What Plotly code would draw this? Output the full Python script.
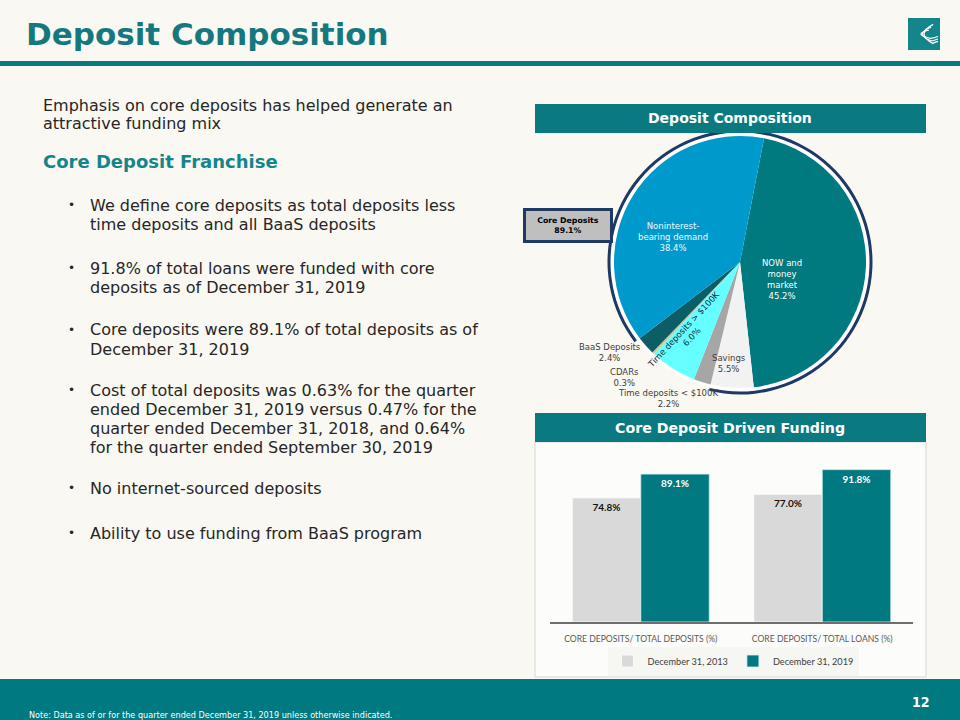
import plotly.graph_objects as go

W, H = 960, 720
def px(x): return x / W
def py(y): return 1 - y / H

# ---------------- data ----------------
pie_labels = ["NOW and money market", "Savings", "Time deposits < $100K",
              "Time deposits > $100K", "CDARs", "BaaS Deposits",
              "Noninterest-bearing demand"]
pie_values = [45.2, 5.5, 2.2, 6.0, 0.3, 2.4, 38.4]
pie_colors = ["#00797F", "#F2F2F2", "#A6A6A6", "#66FFFF", "#C8C89A", "#0C5E66", "#0099CC"]
core_labels = ["NOW and money market", "Savings", "Noninterest-bearing demand"]

bar_categories = ["CORE DEPOSITS/ TOTAL DEPOSITS (%)", "CORE DEPOSITS/ TOTAL LOANS (%)"]
bar_2013 = [74.8, 77.0]
bar_2019 = [89.1, 91.8]
series_names = ["December 31, 2013", "December 31, 2019"]

TEAL = "#0B7A80"
NAVY = "#1F3864"
BG = "#FAF8F2"

core_total = round(sum(v for l, v in zip(pie_labels, pie_values) if l in core_labels), 1)
total = sum(pie_values)
first_angle = 11.0  # NOW slice starts just right of 12 o'clock
core_start = first_angle - pie_values[-1] / total * 360

fig = go.Figure()

cx, cy, R = 740, 262, 126
def dom(r):
    return dict(x=[px(cx - r), px(cx + r)], y=[py(cy + r), py(cy - r)])

# navy arc marking core deposits
fig.add_trace(go.Pie(values=[core_total, total - core_total], sort=False, direction="clockwise",
                     rotation=core_start, hole=129.5 / 132.5, domain=dom(132.5),
                     marker=dict(colors=[NAVY, "rgba(0,0,0,0)"]), textinfo="none",
                     hoverinfo="skip", showlegend=False))
# white ring
fig.add_trace(go.Pie(values=[total], domain=dom(129), marker=dict(colors=["#FFFFFF"]),
                     textinfo="none", hoverinfo="skip", showlegend=False))
# main pie
fig.add_trace(go.Pie(labels=pie_labels, values=pie_values, sort=False, direction="clockwise",
                     rotation=first_angle, domain=dom(R), marker=dict(colors=pie_colors),
                     textinfo="none", hoverinfo="label+value", showlegend=False))

# bars
fig.add_trace(go.Bar(x=bar_categories, y=bar_2013, name=series_names[0],
                     marker=dict(color="#D9D9D9", line=dict(color="#FFFFFF", width=0.8)),
                     texttemplate="<b>%{y:.1f}%</b>", textposition="inside", insidetextanchor="end",
                     textfont=dict(family="Lato, Open Sans", size=10, color="#111111"),
                     xaxis="x", yaxis="y"))
fig.add_trace(go.Bar(x=bar_categories, y=bar_2019, name=series_names[1],
                     marker=dict(color="#007A80", line=dict(color="#D8F2F2", width=0.8)),
                     texttemplate="<b>%{y:.1f}%</b>", textposition="inside", insidetextanchor="end",
                     textfont=dict(family="Lato, Open Sans", size=10, color="#FFFFFF"),
                     xaxis="x", yaxis="y"))

shapes = []
# title rule
shapes.append(dict(type="rect", xref="paper", yref="paper", x0=0, x1=1, y0=py(66), y1=py(61),
                   fillcolor=TEAL, line=dict(width=0), layer="below"))
# footer band
shapes.append(dict(type="rect", xref="paper", yref="paper", x0=0, x1=1, y0=0, y1=py(679),
                   fillcolor="#007A80", line=dict(width=0), layer="below"))
# logo
shapes.append(dict(type="rect", xref="paper", yref="paper", x0=px(908), x1=px(940), y0=py(50), y1=py(18),
                   fillcolor="#14858A", line=dict(width=0)))
for k in range(3):
    r = 5 + 3.5 * k
    shapes.append(dict(type="path", xref="paper", yref="paper",
                       path=f"M {px(926 + r*0.6)} {py(34 - r*0.8)} Q {px(913 + k)} {py(34)} {px(926 + r*0.6)} {py(34 + r*0.8)} "
                            f"Q {px(932)} {py(36 + r*0.6)} {px(938)} {py(33 + r*0.7)}",
                       line=dict(color="#FFFFFF", width=1.2)))
# panel headers
for (y0, y1) in [(104, 133), (413, 442)]:
    shapes.append(dict(type="rect", xref="paper", yref="paper", x0=px(535), x1=px(926), y0=py(y1), y1=py(y0),
                       fillcolor=TEAL, line=dict(width=0)))
# bar panel
shapes.append(dict(type="rect", xref="paper", yref="paper", x0=px(535), x1=px(926), y0=py(677), y1=py(442),
                   fillcolor="#FCFCFA", line=dict(color="#D6D6D6", width=1), layer="below"))

ann = []
def text(x, y, t, size, color="#262626", family="DejaVu Sans", xanchor="left", yanchor="middle",
         align="left", **kw):
    ann.append(dict(x=px(x), y=py(y), xref="paper", yref="paper", text=t, showarrow=False,
                    xanchor=xanchor, yanchor=yanchor, align=align,
                    font=dict(family=family, size=size, color=color), **kw))

text(24, 34, "<b>Deposit Composition</b>", 31, color="#14787E", family="DejaVu Sans")

BODY = 16
intro = [("Emphasis on core deposits has helped generate an", 105), ("attractive funding mix", 123)]
for t, y in intro:
    text(41, y, t, BODY)
text(41, 162, "<b>Core Deposit Franchise</b>", 18, color="#14858A")

bullets = [
    ["We define core deposits as total deposits less", "time deposits and all BaaS deposits"],
    ["91.8% of total loans were funded with core", "deposits as of December 31, 2019"],
    ["Core deposits were 89.1% of total deposits as of", "December 31, 2019"],
    ["Cost of total deposits was 0.63% for the quarter", "ended December 31, 2019 versus 0.47% for the",
     "quarter ended December 31, 2018, and 0.64%", "for the quarter ended September 30, 2019"],
    ["No internet-sourced deposits"],
    ["Ability to use funding from BaaS program"],
]
bullet_y = [205, 268, 330, 390, 488, 533]
for lines, y0 in zip(bullets, bullet_y):
    text(66, y0, "•", 12)
    for i, ln in enumerate(lines):
        text(88, y0 + 19 * i, ln, BODY)

# headers text
text(730, 118.5, "<b>Deposit Composition</b>", 14, color="#FFFFFF", xanchor="center", align="center")
text(730, 427.5, "<b>Core Deposit Driven Funding</b>", 14.2, color="#FFFFFF", xanchor="center", align="center")

# footer
text(921, 702, "<b>12</b>", 14, color="#FFFFFF", xanchor="center", family="DejaVu Sans Condensed, DejaVu Sans")
text(27, 715, "Note: Data as of or for the quarter ended December 31, 2019 unless otherwise indicated.", 9,
     color="#FFFFFF", family="DejaVu Sans Condensed, DejaVu Sans")

# pie labels
lab = dict(zip(pie_labels, pie_values))
PL = 8.5
text(782, 280, f"NOW and<br>money<br>market<br>{lab['NOW and money market']:.1f}%", PL, color="#FFFFFF",
     xanchor="center", align="center")
text(673, 237, f"Noninterest-<br>bearing demand<br>{lab['Noninterest-bearing demand']:.1f}%", PL,
     color="#F0FAFF", xanchor="center", align="center")
text(729, 363, f"Savings<br>{lab['Savings']:.1f}%", PL, color="#404040", xanchor="center", align="center")
text(687, 333, f"Time deposits > $100K<br>{lab['Time deposits > $100K']:.1f}%", PL, color="#1A2A40",
     xanchor="center", align="center", textangle=-47)
text(610, 352, f"BaaS Deposits<br>{lab['BaaS Deposits']:.1f}%", PL, color="#404040", xanchor="center", align="center")
text(624, 377, f"CDARs<br>{lab['CDARs']:.1f}%", PL, color="#404040", xanchor="center", align="center")
text(668, 398, f"Time deposits < $100K<br>{lab['Time deposits < $100K']:.1f}%", PL, color="#404040",
     xanchor="center", align="center")

# core deposits callout box
ann.append(dict(x=px(568), y=py(208.5), xref="paper", yref="paper", showarrow=False,
                text=f"<b>Core Deposits<br>{core_total:.1f}%</b>", width=84, height=29,
                bgcolor="#BFBFBF", bordercolor=NAVY, borderwidth=3, borderpad=0,
                font=dict(family="DejaVu Sans", size=7.8, color="#000000")))

fig.update_layout(
    width=W, height=H, margin=dict(l=0, r=0, t=0, b=0),
    paper_bgcolor=BG, plot_bgcolor="rgba(0,0,0,0)",
    barmode="group", bargap=0.245, bargroupgap=0,
    xaxis=dict(domain=[px(550), px(913)], showline=True, linecolor="#6E6E6E", linewidth=1.5,
               ticks="", tickfont=dict(family="Lato, Open Sans", size=8.6, color="#595959"),
               showgrid=False, fixedrange=True, ticklabelstandoff=8),
    yaxis=dict(domain=[py(622), py(456)], range=[0, 100], visible=False, fixedrange=True),
    legend=dict(orientation="h", x=px(733), xanchor="center", y=py(661), yanchor="middle",
                font=dict(family="Lato, Open Sans", size=9.2, color="#404040"),
                bgcolor="rgba(244,244,240,0.7)", itemwidth=30, traceorder="normal"),
    shapes=shapes, annotations=ann,
)

fig.write_html("out.html")
